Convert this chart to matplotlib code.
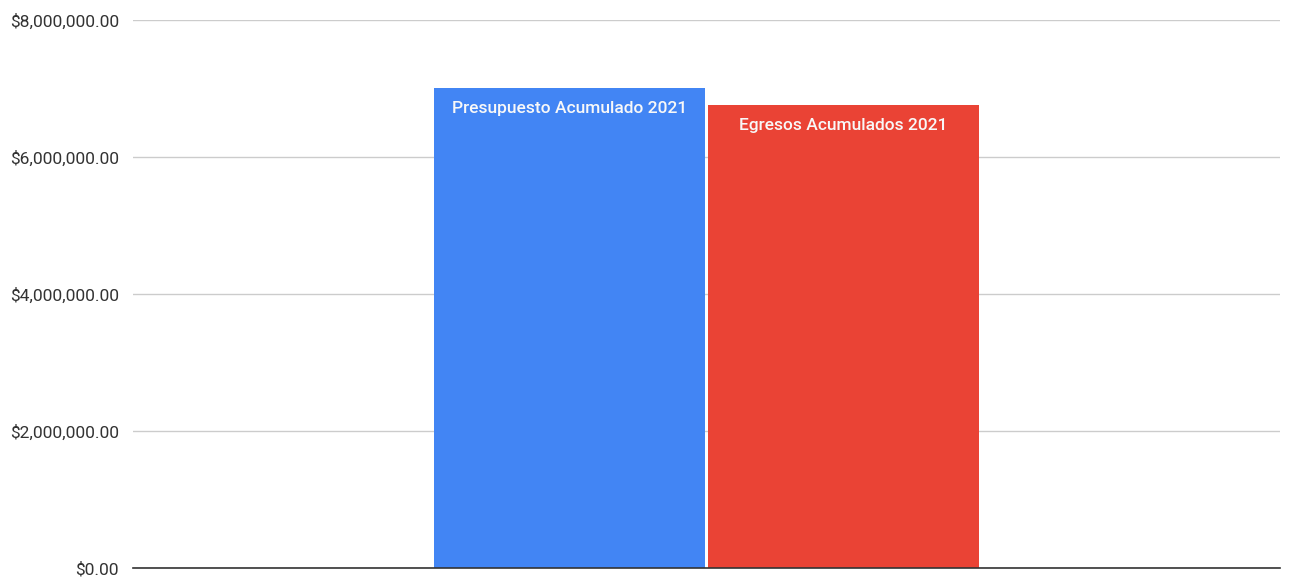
import matplotlib.pyplot as plt
from matplotlib.ticker import FuncFormatter

series = ['Presupuesto Acumulado 2021', 'Egresos Acumulados 2021']
values = [7010000, 6760000]
colors = ['#4285F4', '#EA4335']
y_ticks = [0, 2000000, 4000000, 6000000, 8000000]

plt.rcParams['font.family'] = ['Roboto', 'DejaVu Sans']

fig = plt.figure(figsize=(12.97, 5.77), dpi=100)
ax = fig.add_axes([133 / 1297, 1 - 568 / 577, (1280 - 133) / 1297, (568 - 20) / 577])

x = [0, 1]
bars = ax.bar(x, values, width=0.99, color=colors, zorder=3)

for b, name in zip(bars, series):
    ax.annotate(name, (b.get_x() + b.get_width() / 2, b.get_height()),
                xytext=(0, -15), textcoords='offset points',
                ha='center', va='center', color='#f8f8f8', fontsize=12.5,
                fontweight='medium', zorder=4)

ax.set_xlim(0.5 - 2.097, 0.5 + 2.097)
ax.set_ylim(0, 8000000)
ax.set_yticks(y_ticks)
ax.yaxis.set_major_formatter(FuncFormatter(lambda v, p: '${:,.2f}'.format(v)))
ax.tick_params(axis='y', length=0, pad=10, labelsize=12.5, labelcolor='#333333')
ax.set_xticks([])
ax.grid(axis='y', color='#cccccc', linewidth=1, zorder=0)
for s in ['top', 'right', 'left']:
    ax.spines[s].set_visible(False)
ax.spines['bottom'].set_color('#333333')
ax.spines['bottom'].set_linewidth(1.2)
ax.spines['bottom'].set_zorder(5)

fig.savefig('out.png', dpi=100)
